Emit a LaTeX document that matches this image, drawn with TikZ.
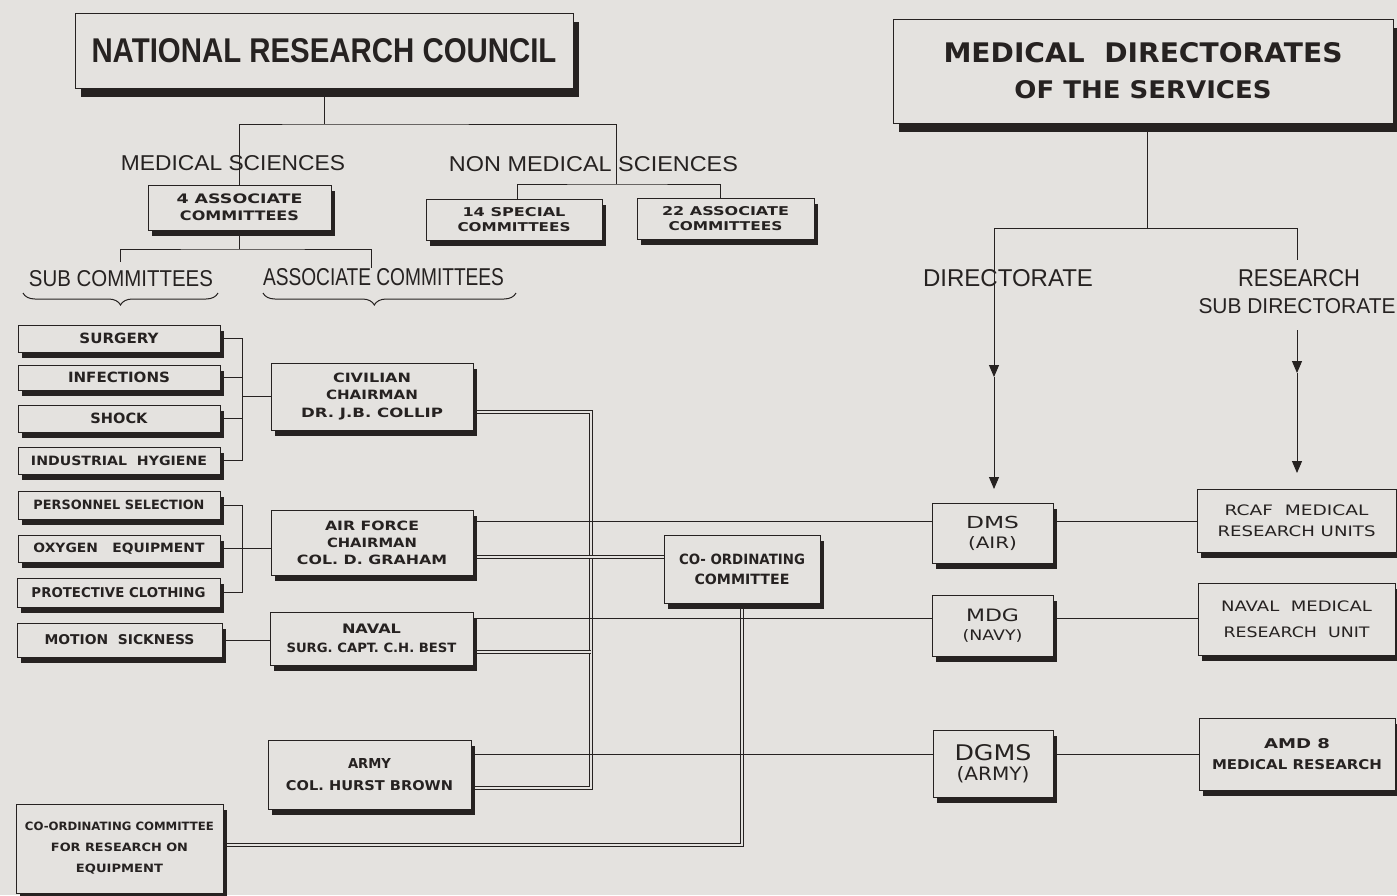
\documentclass[tikz,border=0pt]{standalone}
\usepackage{fontspec}
\usepackage{graphicx}
\usetikzlibrary{arrows.meta,shadows,decorations.pathreplacing,calc}
\setmainfont{DejaVu Sans}
\newfontfamily\thinf{Liberation Sans}
\newfontfamily\heavyf{Liberation Sans}
\definecolor{paper}{RGB}{228,226,223}
\definecolor{ink}{RGB}{38,34,33}
\newcommand\fitx[3]{\resizebox{#1pt}{#2pt}{#3}}
\pgfdeclarelayer{paperlayer}
\pgfdeclarelayer{lineslayer}
\pgfsetlayers{paperlayer,lineslayer,main}
\begin{document}
\begin{tikzpicture}[x=1pt,y=-1pt,
  basebox/.style={draw=ink, line width=1pt, fill=paper, inner sep=0pt, align=center, text=ink},
  box/.style={basebox, drop shadow={shadow xshift=4pt, shadow yshift=-6pt, fill=ink, opacity=1, shadow scale=1}},
  bigbox/.style={basebox, drop shadow={shadow xshift=6pt, shadow yshift=-9pt, fill=ink, opacity=1, shadow scale=1}},
  lab/.style={font={\bfseries\fontsize{13pt}{#1pt}\selectfont}},
  labr/.style={font={\mdseries\fontsize{13pt}{#1pt}\selectfont}},
  thinlabel/.style={inner sep=0pt, text=ink, font={\thinf\fontsize{21pt}{24pt}\selectfont}},
  conn/.style={draw=ink, line width=1pt},
  dbl/.style={draw=ink, line width=0.8pt, double=paper, double distance=1.6pt},
  arr/.style={-{Triangle[width=10pt,length=12pt]}},
  brc/.style={draw=ink, line width=1pt, decorate}
]
\useasboundingbox (0,0) rectangle (1397,895);
\begin{pgfonlayer}{paperlayer}
  \fill[paper] (0,0) rectangle (1397,895);
\end{pgfonlayer}

% ---- top titles
\node[bigbox, minimum width=498pt, minimum height=75pt] (nrc) at (324,50.5)
  {\heavyf\bfseries\fontsize{32pt}{34pt}\selectfont\fitx{465}{24}{NATIONAL RESEARCH COUNCIL}};
\node[bigbox, minimum width=500pt, minimum height=104pt, font={\bfseries\fontsize{26pt}{36pt}\selectfont}] (mdir) at (1143,71)
  {\fitx{399}{20}{MEDICAL\ \ DIRECTORATES}\\\fitx{257}{18}{OF THE SERVICES}};

% ---- thin labels
\node[thinlabel] (medsci) at (233,163) {\fitx{224}{15}{MEDICAL SCIENCES}};
\node[thinlabel] (nonmed) at (593.5,164) {\fitx{289}{15}{NON MEDICAL SCIENCES}};
\node[thinlabel] (subc) at (121,279) {\fitx{184}{16}{SUB COMMITTEES}};
\node[thinlabel] (assocc) at (383.5,277) {\fitx{241}{17}{ASSOCIATE COMMITTEES}};
\node[thinlabel] (direc) at (1008,278) {\fitx{170}{17}{DIRECTORATE}};
\node[thinlabel] (res) at (1299,278) {\fitx{122}{17}{RESEARCH}};
\node[thinlabel] (subdir) at (1297,306) {\fitx{197}{15}{SUB DIRECTORATE}};

% ---- committee boxes
\node[box, minimum width=183pt, minimum height=45pt, lab=17] (ac4) at (239.5,207.5)
  {\fitx{126}{9.7}{4 ASSOCIATE}\\\fitx{119}{9.7}{COMMITTEES}};
\node[box, minimum width=176pt, minimum height=41pt, lab=15] (sc14) at (514,219.5)
  {\fitx{103}{9}{14 SPECIAL}\\\fitx{113}{9}{COMMITTEES}};
\node[box, minimum width=177pt, minimum height=41pt, lab=15] (ac22) at (725.5,218.5)
  {\fitx{127}{9}{22 ASSOCIATE}\\\fitx{114}{9}{COMMITTEES}};

% ---- sub committees
\node[box, minimum width=202pt, minimum height=27pt, lab=15] (surgery) at (119,338.5) {\fitx{79}{10.5}{SURGERY}};
\node[box, minimum width=202pt, minimum height=25pt, lab=15] (infections) at (119,377.5) {\fitx{102}{10.5}{INFECTIONS}};
\node[box, minimum width=202pt, minimum height=27pt, lab=15] (shock) at (119,418.5) {\fitx{57}{10.5}{SHOCK}};
\node[box, minimum width=202pt, minimum height=27pt, lab=15] (indhyg) at (119,460.5) {\fitx{176}{9.5}{INDUSTRIAL\ \ HYGIENE}};
\node[box, minimum width=202pt, minimum height=28pt, lab=15] (perssel) at (119,505) {\fitx{171}{9.5}{PERSONNEL SELECTION}};
\node[box, minimum width=202pt, minimum height=27pt, lab=15] (oxygen) at (119,548.5) {\fitx{171}{9.5}{OXYGEN\ \ \ EQUIPMENT}};
\node[box, minimum width=203pt, minimum height=29pt, lab=15] (protect) at (118.5,592.5) {\fitx{174}{10}{PROTECTIVE CLOTHING}};
\node[box, minimum width=205pt, minimum height=34pt, lab=15] (motion) at (119.5,640) {\fitx{150}{10}{MOTION\ \ SICKNESS}};

% ---- associate committees
\node[box, minimum width=202pt, minimum height=67pt, lab=17.5] (civ) at (372,396.5)
  {\fitx{78}{9.5}{CIVILIAN}\\\fitx{92}{9.5}{CHAIRMAN}\\\fitx{142}{9.5}{DR.\ J.B.\ COLLIP}};
\node[box, minimum width=202pt, minimum height=65pt, lab=17] (af) at (372,542.5)
  {\fitx{94}{9.5}{AIR FORCE}\\\fitx{90}{9.5}{CHAIRMAN}\\\fitx{150}{9.5}{COL.\ D.\ GRAHAM}};
\node[box, minimum width=203pt, minimum height=53pt, lab=19] (nav) at (371.5,638.5)
  {\fitx{59}{9.5}{NAVAL}\\\fitx{170}{9.5}{SURG.\ CAPT.\ C.H.\ BEST}};
\node[box, minimum width=203pt, minimum height=69pt, lab=22] (army) at (369.5,774.5)
  {\fitx{43}{10}{ARMY}\\\fitx{167}{10}{COL.\ HURST\ BROWN}};
\node[box, minimum width=207pt, minimum height=89pt, lab=21] (ccre) at (119.5,848.5)
  {\fitx{189}{8.5}{CO-ORDINATING COMMITTEE}\\\fitx{137}{8.5}{FOR RESEARCH ON}\\\fitx{87}{8.5}{EQUIPMENT}};
\node[box, minimum width=156pt, minimum height=68pt, lab=20] (coord) at (742,569)
  {\fitx{126}{10.5}{CO- ORDINATING}\\\fitx{95}{10.5}{COMMITTEE}};

% ---- service directorates
\node[box, minimum width=121pt, minimum height=60pt, labr=20] (dms) at (992.5,533)
  {\fitx{53}{12.3}{DMS}\\\fitx{49}{12}{(AIR)}};
\node[box, minimum width=121pt, minimum height=61pt, labr=19] (mdg) at (992.5,625.5)
  {\fitx{53}{12.7}{MDG}\\\fitx{60}{11}{(NAVY)}};
\node[box, minimum width=120pt, minimum height=67pt, labr=20] (dgms) at (993,763.5)
  {\fitx{77}{16}{DGMS}\\\fitx{73}{14}{(ARMY)}};
\node[box, minimum width=199pt, minimum height=63pt, labr=21] (rcaf) at (1296.5,520.5)
  {\fitx{144}{10.7}{RCAF\ \ MEDICAL}\\\fitx{158}{10.7}{RESEARCH UNITS}};
\node[box, minimum width=197pt, minimum height=72pt, labr=26] (navmed) at (1296.5,619)
  {\fitx{151}{10.7}{NAVAL\ \ MEDICAL}\\\fitx{146}{10.7}{RESEARCH\ \ UNIT}};
\node[box, minimum width=196pt, minimum height=72pt, lab=21] (amd) at (1297,754)
  {\fitx{66}{10}{AMD 8}\\\fitx{170}{10}{MEDICAL RESEARCH}};

% ---- junction coordinates
\coordinate (nrcj) at (324,124);
\coordinate (nmj) at (616,184);
\coordinate (acj) at (239.5,249);
\coordinate (subj) at (120,262);
\coordinate (assj) at (371,268);
\coordinate (b1) at (242,0);
\coordinate (mdj) at (1147,228);
\coordinate (rs1) at (1297,260);
\coordinate (rs2) at (1297,330);
\coordinate (rs3) at (1297,373);
\coordinate (rs4) at (1297,473);
\coordinate (da1) at (994,377);
\coordinate (da2) at (994,489);
\coordinate (yAir) at (0,521);
\coordinate (yNav) at (0,618);
\coordinate (yArm) at (0,754);
\coordinate (busT) at (591,412);
\coordinate (busB) at (591,788);
\coordinate (yAFd) at (0,557);
\coordinate (yNd) at (0,652);
\coordinate (yCC) at (0,845);
\coordinate (sbL) at (23,293);
\coordinate (sbR) at (218,293);
\coordinate (abL) at (263,293);
\coordinate (abR) at (516,293);

\begin{pgfonlayer}{lineslayer}
  % coordination (double) lines
  \draw[dbl] (civ.east |- busT) -- (busT) -- (busB) -- (army.east |- busB);
  \draw[dbl] (nav.east |- yNd) -- (busT |- yNd);
  \draw[dbl] (af.east |- yAFd) -- (coord.west |- yAFd);
  \draw[dbl] (coord.south) |- (ccre.east |- yCC);
  % NRC tree
  \draw[conn] (nrc.south) -- (nrcj);
  \draw[conn] (ac4.north) |- (nrcj) -| (nmj);
  \draw[conn] ([xshift=3pt]sc14.north) |- (nmj) -| ([xshift=-5pt]ac22.north);
  \draw[conn] (ac4.south) -- (acj);
  \draw[conn] (subj) |- (acj) -| (assj);
  % sub committee brackets
  \draw[conn] (surgery.east) -| (b1 |- indhyg.east) -- (indhyg.east);
  \draw[conn] (infections.east) -- (infections.east -| b1);
  \draw[conn] (shock.east) -- (shock.east -| b1);
  \draw[conn] (civ.west) -- (civ.west -| b1);
  \draw[conn] (perssel.east) -| (b1 |- protect.east) -- (protect.east);
  \draw[conn] (oxygen.east) -- (oxygen.east -| af.west);
  \draw[conn] (motion.east) -- (motion.east -| nav.west);
  % medical directorates tree
  \draw[conn] (mdir.south -| mdj) -- (mdj);
  \draw[conn] (mdj) -| (rs1);
  \draw[conn, arr] (mdj) -| (da1);
  \draw[conn, arr] (da1) -- (da2);
  \draw[conn, arr] (rs2) -- (rs3);
  \draw[conn, arr] (rs3) -- (rs4);
  % service links
  \draw[conn] (af.east |- yAir) -- (dms.west |- yAir);
  \draw[conn] (dms.east |- yAir) -- (rcaf.west |- yAir);
  \draw[conn] (nav.east |- yNav) -- (mdg.west |- yNav);
  \draw[conn] (mdg.east |- yNav) -- (navmed.west |- yNav);
  \draw[conn] (army.east |- yArm) -- (dgms.west |- yArm);
  \draw[conn] (dgms.east |- yArm) -- (amd.west |- yArm);
\end{pgfonlayer}

% braces
\draw[brc, decoration={brace, mirror, amplitude=12pt}] (sbL) -- (sbR);
\draw[brc, decoration={brace, mirror, amplitude=12pt, aspect=0.44}] (abL) -- (abR);
\end{tikzpicture}
\end{document}
